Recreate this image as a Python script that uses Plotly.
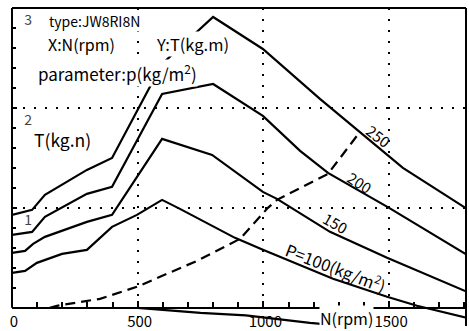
import plotly.graph_objects as go

# ---- data ----
rpm_250 = [0, 80, 131, 298, 398, 597, 800, 998, 1225, 1555, 1810]
T_250 = [0.93, 0.98, 1.13, 1.38, 1.50, 2.44, 2.91, 2.59, 2.09, 1.40, 0.99]

rpm_200 = [0, 80, 131, 298, 398, 597, 800, 998, 1146, 1257, 1500, 1810]
T_200 = [0.73, 0.76, 0.91, 1.14, 1.21, 2.14, 2.24, 1.92, 1.57, 1.35, 1.00, 0.53]

rpm_150 = [0, 52, 84, 131, 298, 398, 597, 796, 998, 1054, 1265, 1492, 1810]
T_150 = [0.55, 0.57, 0.64, 0.71, 0.86, 0.93, 1.69, 1.53, 1.16, 1.09, 0.76, 0.50, 0.16]

rpm_100 = [0, 52, 99, 199, 298, 398, 497, 597, 668, 776, 887, 998, 1277, 1492, 1611, 1810]
T_100 = [0.35, 0.37, 0.45, 0.54, 0.58, 0.81, 0.93, 1.08, 0.99, 0.85, 0.70, 0.58, 0.29, 0.11, 0.02, -0.10]

rpm_load = [150, 179, 350, 497, 736, 907, 1018, 1054, 1257, 1384]
T_load = [0.0, 0.02, 0.09, 0.21, 0.47, 0.69, 1.00, 1.08, 1.34, 1.76]

rpm_low = [500, 750, 930, 1185, 1400]
T_low = [0.0, -0.05, -0.075, -0.15, -0.20]

x_tick_vals = [0, 500, 1000, 1500]
x_tick_text = ["0", "500", "1000", "1500"]
y_tick_vals = [1, 2, 3]
y_tick_text = ["1", "2", "3"]

X_MIN, X_MAX = 0, 1806
Y_MIN, Y_MAX = -0.182, 3.0

FONT = "Noto Sans CJK JP, Liberation Sans, sans-serif"

fig = go.Figure()
for xs, ys in [(rpm_250, T_250), (rpm_200, T_200), (rpm_150, T_150), (rpm_100, T_100), (rpm_low, T_low)]:
    fig.add_trace(go.Scatter(x=xs, y=ys, mode="lines",
                             line=dict(color="black", width=2.2), hoverinfo="skip"))
fig.add_trace(go.Scatter(x=rpm_load, y=T_load, mode="lines",
                         line=dict(color="black", width=2.2, dash="10px,6px"), hoverinfo="skip"))

fig.update_layout(
    width=469, height=331,
    margin=dict(l=12, r=3, t=8, b=0),
    paper_bgcolor="white", plot_bgcolor="white",
    showlegend=False,
    font=dict(family=FONT, color="black", size=14),
)

fig.update_xaxes(
    range=[X_MIN, X_MAX], anchor="free", position=(0 - Y_MIN) / (Y_MAX - Y_MIN),
    showline=True, linecolor="black", linewidth=2,
    tickvals=x_tick_vals, ticktext=x_tick_text,
    ticks="inside", ticklen=6, tickwidth=2, tickcolor="black",
    minor=dict(dtick=100, ticks="inside", ticklen=5, tickwidth=2, tickcolor="black", showgrid=False),
    showgrid=True, gridcolor="black", gridwidth=2, griddash="2px,9px",
    zeroline=False, tickfont=dict(size=15, family=FONT),
    ticklabeloverflow="allow", ticklabelshift=2,
)
fig.update_yaxes(
    range=[Y_MIN, Y_MAX], showline=False,
    tickvals=y_tick_vals, ticktext=y_tick_text,
    ticks="inside", ticklen=5, tickwidth=2, tickcolor="black",
    minor=dict(dtick=0.2, ticks="inside", ticklen=4, tickwidth=2, tickcolor="black", showgrid=False),
    showgrid=True, gridcolor="black", gridwidth=2, griddash="2px,9px",
    zeroline=False, ticklabelposition="inside", ticklabelstandoff=7, ticklabelshift=12,
    ticklabeloverflow="allow",
    tickfont=dict(size=14, family=FONT),
)

# frame
fig.add_shape(type="line", xref="paper", yref="paper", x0=0, x1=1, y0=1, y1=1,
              line=dict(color="black", width=2), layer="above")
fig.add_shape(type="line", xref="paper", yref="paper", x0=1, x1=1, y0=0, y1=1,
              line=dict(color="black", width=2), layer="above")
fig.add_shape(type="line", xref="paper", yref="y", x0=0, x1=0, y0=0, y1=Y_MAX,
              line=dict(color="black", width=2), layer="above")

def note(x, y, text, size=15, angle=0, xanchor="left", bg=True):
    fig.add_annotation(x=x, y=y, text=text, showarrow=False, xanchor=xanchor, yanchor="middle",
                       textangle=angle, font=dict(size=size, family=FONT, color="black"),
                       bgcolor="white" if bg else None, borderpad=0)

note(143, 2.87, "type:JW8RI8N", size=14)
note(139, 2.64, "X:N(rpm)", size=16)
note(569, 2.64, "Y:T(kg.m)", size=16.5)
note(99, 2.35, "parameter:p(kg/m<sup>2</sup>)", size=17)
note(84, 1.68, "T(kg.n)", size=17.5)
note(1456, 1.72, "250", size=15, angle=38, xanchor="center", bg=False)
note(1384, 1.25, "200", size=15, angle=33, xanchor="center", bg=False)
note(1285, 0.85, "150", size=15, angle=30, xanchor="center", bg=False)
note(1290, 0.40, "P=100(kg/m<sup>2</sup>)", size=16.5, angle=21, xanchor="center", bg=False)
note(1329, -0.10, "N(rpm)", size=16, xanchor="center")

fig.write_html("out.html")
